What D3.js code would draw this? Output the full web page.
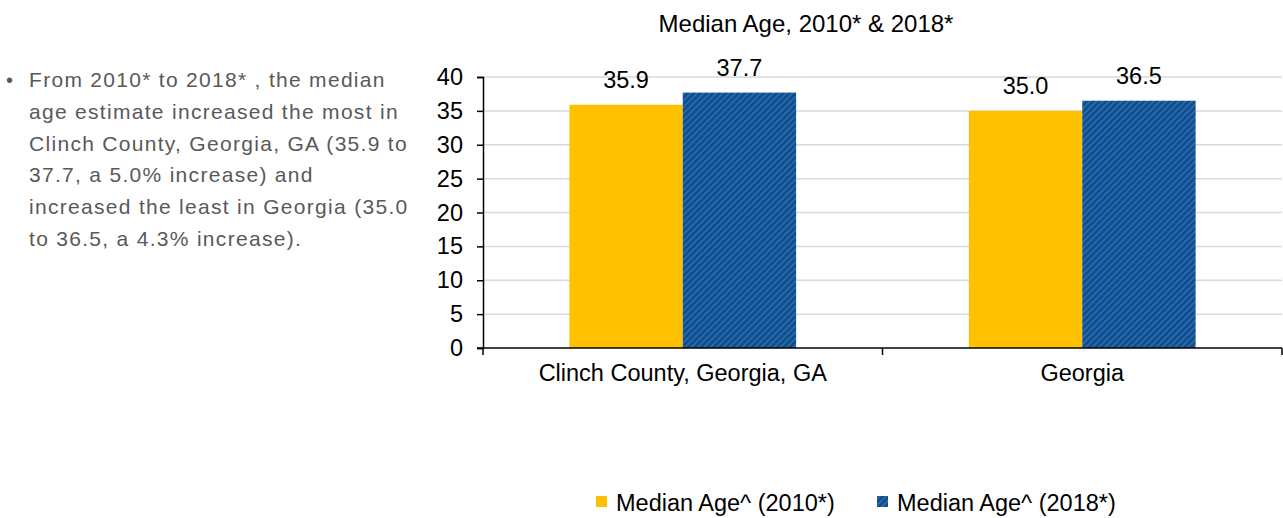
<!DOCTYPE html>
<html><head><meta charset="utf-8">
<script src="https://cdn.jsdelivr.net/npm/d3@7"></script>
<style>body{margin:0;background:#fff}svg{display:block;font-family:"Liberation Sans",Arial,sans-serif}</style>
</head><body><svg id="c" width="1283" height="518"></svg>
<script>
const categories = ["Clinch County, Georgia, GA", "Georgia"];
const seriesNames = ["Median Age^ (2010*)", "Median Age^ (2018*)"];
const values2010 = [35.9, 35.0];
const values2018 = [37.7, 36.5];
const yTicks = [0, 5, 10, 15, 20, 25, 30, 35, 40];
const title = "Median Age, 2010* & 2018*";
const noteLines = ["From 2010* to 2018* , the median", "age estimate increased the most in", "Clinch County, Georgia, GA (35.9 to", "37.7, a 5.0% increase) and", "increased the least in Georgia (35.0", "to 36.5, a 4.3% increase)."];

const colors = ["#FFC000", "url(#hatch)"];
const svg = d3.select("#c");
const defs = svg.append("defs");
const pat = defs.append("pattern").attr("id","hatch").attr("patternUnits","userSpaceOnUse").attr("width",4.5).attr("height",4.5).attr("patternTransform","rotate(45)");
pat.append("rect").attr("width",4.5).attr("height",4.5).attr("fill","#0f4e8e");
pat.append("rect").attr("width",1.8).attr("height",4.5).attr("fill","#2a6aab");

const L = 483, R = 1282, T = 77, B = 348;
const y = d3.scaleLinear().domain([0,40]).range([B,T]);
const x0 = d3.scaleBand().domain(categories).range([L,R]).padding(0);
const x1 = d3.scaleBand().domain(seriesNames).range([0,x0.bandwidth()]).paddingInner(0).paddingOuter(0.762);

// gridlines
svg.append("g").selectAll("line").data(yTicks.filter(d=>d>0)).join("line")
  .attr("x1",L).attr("x2",R).attr("y1",d=>y(d)).attr("y2",d=>y(d))
  .attr("stroke","#d9d9d9").attr("stroke-width",1.5);

const data = categories.map((c,i)=>({cat:c, vals:[values2010[i], values2018[i]]}));
const g = svg.append("g");
data.forEach(d=>{
  d.vals.forEach((v,j)=>{
    const bx = x0(d.cat)+x1(seriesNames[j]);
    g.append("rect").attr("x",bx).attr("y",y(v)).attr("width",x1.bandwidth()).attr("height",y(0)-y(v)).attr("fill",colors[j]);
    g.append("text").attr("x",bx+x1.bandwidth()/2).attr("y",y(v)-16.5).attr("text-anchor","middle")
      .attr("font-size",23.5).attr("fill","#000").text(v.toFixed(1));
  });
});

// y axis
const yAxis = d3.axisLeft(y).tickValues(yTicks).tickSize(6).tickPadding(14);
const ya = svg.append("g").attr("transform",`translate(${L},0)`).call(yAxis);
ya.select(".domain").attr("stroke","#000").attr("stroke-width",1.5);
ya.selectAll(".tick line").attr("stroke","#000").attr("stroke-width",1.5);
ya.selectAll(".tick text").attr("font-size",23.5).attr("fill","#000").attr("font-family","Liberation Sans, Arial, sans-serif");

// x axis
const xa = svg.append("g").attr("transform",`translate(0,${B})`);
xa.append("line").attr("x1",L-6).attr("x2",R).attr("stroke","#000").attr("stroke-width",1.5);
const bounds = [L, L+x0.step(), R];
xa.selectAll("line.t").data(bounds).join("line").attr("class","t").attr("x1",d=>d).attr("x2",d=>d).attr("y1",0).attr("y2",7).attr("stroke","#000").attr("stroke-width",1.5);
xa.selectAll("text").data(categories).join("text").attr("x",d=>x0(d)+x0.bandwidth()/2).attr("y",33)
  .attr("text-anchor","middle").attr("font-size",23.5).attr("fill","#000").text(d=>d);

// title
svg.append("text").attr("x",806).attr("y",32).attr("text-anchor","middle").attr("font-size",24).attr("fill","#000").text(title);

// note
const note = svg.append("g");
note.append("text").attr("x",6).attr("y",87).attr("font-size",20).attr("fill","#595959").text("•");
note.selectAll("text.l").data(noteLines).join("text").attr("class","l").attr("x",29).attr("y",(d,i)=>87+i*31.8)
  .attr("font-size",21).attr("letter-spacing",1.3).attr("fill","#595959").text(d=>d);

// legend
const legX = [596, 877];
seriesNames.forEach((s,i)=>{
  svg.append("rect").attr("x",legX[i]).attr("y",496).attr("width",11).attr("height",11).attr("fill",colors[i]);
  svg.append("text").attr("x",legX[i]+20).attr("y",511).attr("font-size",23.5).attr("fill","#000").text(s);
});
</script></body></html>
